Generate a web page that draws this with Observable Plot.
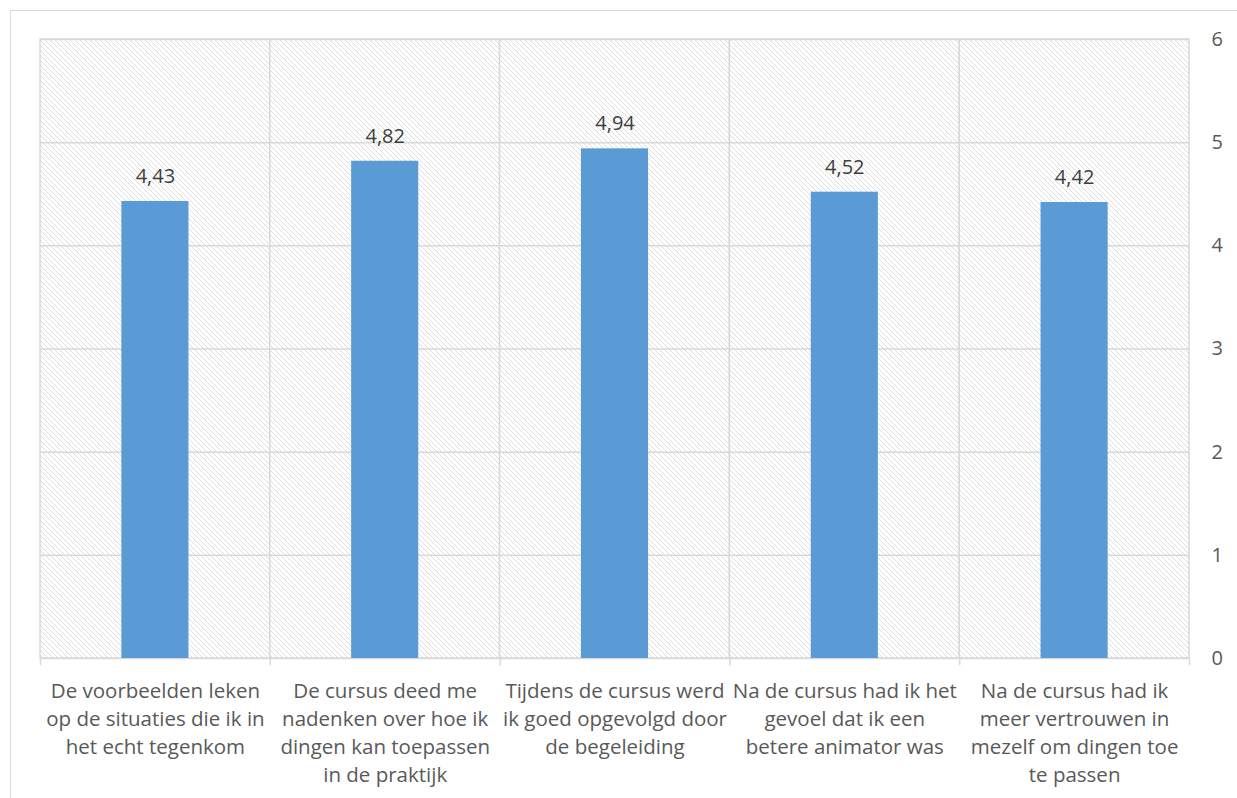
<!DOCTYPE html>
<html>
<head>
<meta charset="utf-8">
<script src="https://cdn.jsdelivr.net/npm/d3@7"></script>
<script src="https://cdn.jsdelivr.net/npm/@observablehq/plot@0.6"></script>
<style>
  html, body { margin: 0; padding: 0; background: #fff; }
  #wrap { position: relative; width: 1237px; height: 798px; overflow: hidden; }
  #border { position: absolute; left: 10px; top: 10px; width: 1300px; height: 900px;
            border: 1px solid #d9d9d9; box-sizing: border-box; pointer-events: none; }
  svg { position: absolute; left: 0; top: 0; }
</style>
</head>
<body>
<div id="wrap"><div id="border"></div></div>
<script>
// Survey statements (Dutch), one per bar, pre-broken into lines
const statements = [
  "De voorbeelden leken\nop de situaties die ik in\nhet echt tegenkom",
  "De cursus deed me\nnadenken over hoe ik\ndingen kan toepassen\nin de praktijk",
  "Tijdens de cursus werd\nik goed opgevolgd door\nde begeleiding",
  "Na de cursus had ik het\ngevoel dat ik een\nbetere animator was",
  "Na de cursus had ik\nmeer vertrouwen in\nmezelf om dingen toe\nte passen"
];
// Average score per statement
const scores = [4.43, 4.82, 4.94, 4.52, 4.42];
// Value axis ticks
const yTicks = [0, 1, 2, 3, 4, 5, 6];

const data = statements.map((s, i) => ({i, label: s, score: scores[i]}));
const edges = d3.range(statements.length + 1);

const fmt = v => v.toFixed(2).replace(".", ",");
const barHalf = 0.146;   // half bar width, in category units
const font = "'Open Sans', sans-serif";
const grid = "#d9d9d9";

const chart = Plot.plot({
  width: 1237,
  height: 798,
  marginLeft: 40,
  marginRight: 48,
  marginTop: 39,
  marginBottom: 140,
  style: {fontFamily: font, fontSize: "20px", color: "#595959", background: "transparent"},
  x: {domain: [0, statements.length], axis: null},
  y: {domain: [0, 6], ticks: yTicks, axis: "right", tickSize: 0, tickPadding: 22,
      tickFormat: d => String(d), label: null},
  marks: [
    // hatched category cells, their outlines form the vertical grid
    Plot.rectY(data, {x1: d => d.i, x2: d => d.i + 1, y1: 0, y2: 6,
      fill: "url(#hatch)", stroke: grid, strokeWidth: 1.5}),
    // horizontal gridlines
    Plot.ruleY(yTicks, {stroke: grid, strokeWidth: 1.5}),
    // small ticks below the category axis at the cell edges
    Plot.ruleX(edges, {y1: 0, y2: -0.07, stroke: grid, strokeWidth: 1.5}),
    // bars
    Plot.rectY(data, {x1: d => d.i + 0.5 - barHalf, x2: d => d.i + 0.5 + barHalf,
      y1: 0, y2: "score", fill: "#5b9bd5"}),
    // value labels
    Plot.text(data, {x: d => d.i + 0.5, y: "score", text: d => fmt(d.score),
      dy: -25, fill: "#404040", fontSize: 20}),
    // category labels
    Plot.text(data, {x: d => d.i + 0.5, y: 0, text: "label", lineAnchor: "top",
      dy: 20, lineHeight: 28 / 20.5, fill: "#595959", fontSize: 20.5})
  ]
});

// diagonal hatch used as the plot-area fill
const svg = d3.select(chart);
const pat = svg.insert("defs", ":first-child")
  .append("pattern")
  .attr("id", "hatch")
  .attr("patternUnits", "userSpaceOnUse")
  .attr("width", 5).attr("height", 5);
pat.append("rect").attr("width", 5).attr("height", 5).attr("fill", "#fff");
pat.append("path")
  .attr("d", "M0,0L5,5M-1,4L1,6M4,-1L6,1")
  .attr("stroke", "#dedede").attr("stroke-width", 1);

document.getElementById("wrap").appendChild(chart);
</script>
</body>
</html>
